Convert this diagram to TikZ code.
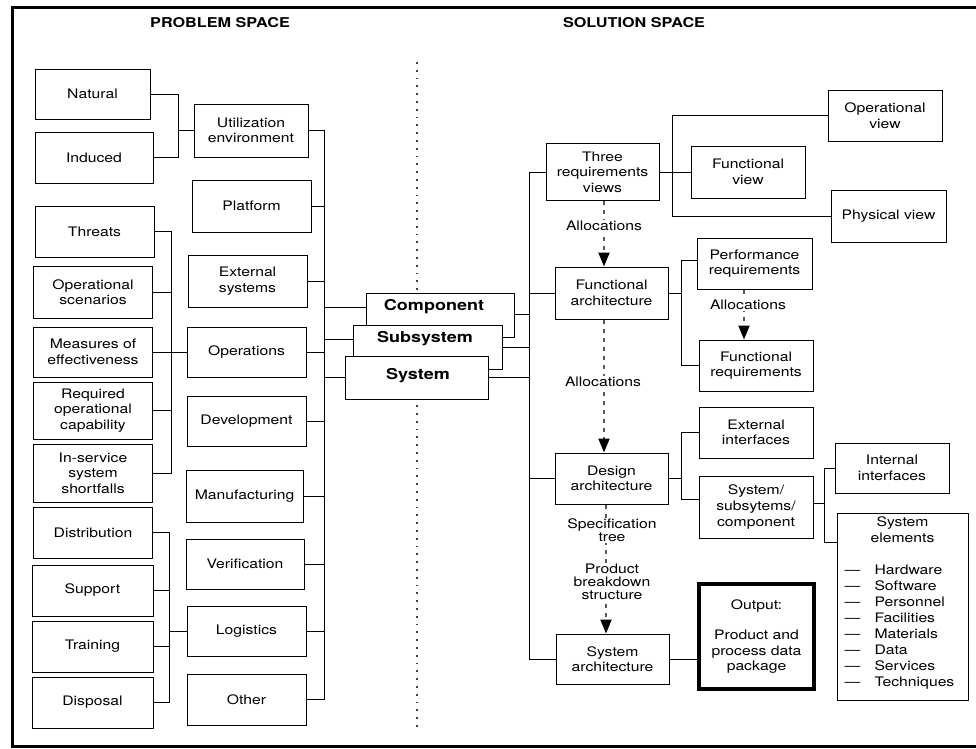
\documentclass[tikz,border=0pt]{standalone}
\usepackage{fontspec}
\setmainfont{TeX Gyre Heros}[FakeStretch=1.2]
\usetikzlibrary{arrows.meta, calc}
\tikzset{>={Triangle[length=14pt,width=11pt,color=black]}}
\tikzset{
  box/.style={draw, fill=white, line width=1pt, align=center, inner sep=0pt, minimum width=119pt, minimum height=51pt, font=\fontsize{13.1}{15.6}\selectfont},
  tier/.style={draw, fill=white, line width=1pt, inner sep=0pt, minimum width=148pt, minimum height=44pt},
  tiertext/.style={font=\fontsize{15}{18}\selectfont\bfseries},
  heading/.style={font=\fontsize{13.5}{16}\selectfont\bfseries},
  link/.style={line width=1pt},
  alloc/.style={->, black!65, line width=2pt, dash pattern=on 4pt off 5pt},
  alloctext/.style={fill=white, inner sep=1pt, align=center, font=\fontsize{13.1}{13}\selectfont},
}

\begin{document}
\begin{tikzpicture}[x=1pt,y=-1pt]
\useasboundingbox (0,0) rectangle (976,748);
\draw[line width=3pt] (990,7) -- (12,7) -- (12,746.5) -- (990,746.5);
\draw[black!75, line width=1.8pt, dash pattern=on 1.8pt off 6pt] (417,62) -- (417,729);

\node[heading] (probhead) at (220,23) {PROBLEM SPACE};
\node[heading] (solhead) at (634,23) {SOLUTION SPACE};

% problem space
\node[box, minimum width=115, minimum height=50] (natural) at (92.5,94) {Natural};
\node[box, minimum width=118] (induced) at (94,157.5) {Induced};
\node[box] (threats) at (94.5,231.5) {Threats};
\node[box, minimum height=52] (opscen) at (93,292) {Operational\\scenarios};
\node[box, minimum height=50] (moe) at (93,352) {Measures of\\effectiveness};
\node[box, minimum height=57] (roc) at (93,410.5) {Required\\operational\\capability};
\node[box, minimum height=58] (isss) at (93,473) {In-service\\system\\shortfalls};
\node[box] (distrib) at (93,532.5) {Distribution};
\node[box, minimum width=121] (support) at (92.5,590.5) {Support};
\node[box, minimum width=121] (training) at (92.5,646.5) {Training};
\node[box, minimum width=121] (disposal) at (92.5,702.5) {Disposal};

\node[box, minimum width=114, minimum height=53] (utilenv) at (251,130.5) {Utilization\\environment};
\node[box, minimum height=52] (platform) at (251.5,206) {Platform};
\node[box, minimum height=52] (extsys) at (247.5,281) {External\\systems};
\node[box, minimum height=50] (operations) at (246.5,352) {Operations};
\node[box, minimum height=50] (development) at (246.5,421) {Development};
\node[box, minimum width=117, minimum height=52] (manufacturing) at (244.5,496) {Manufacturing};
\node[box, minimum width=118, minimum height=50] (verification) at (245,564) {Verification};
\node[box, minimum height=50] (logistics) at (246.5,631) {Logistics};
\node[box] (other) at (246.5,699.5) {Other};

\node[tier] (component) at (440,315) {};
\node[tiertext] (comptext) at (434,307) {Component};
\node[tier, minimum width=149] (subsystem) at (427.5,347) {};
\node[tiertext] (subtext) at (425,339) {Subsystem};
\node[tier, minimum width=143, minimum height=43] (system) at (416.5,377.5) {};
\node[tiertext] (systext) at (418,376) {System};

% solution space
\node[box, minimum width=113, minimum height=57] (threereq) at (602.5,172) {Three\\requirements\\views};
\node[box, minimum width=113, minimum height=52] (funcarch) at (611.5,293) {Functional\\architecture};
\node[box, minimum width=113] (designarch) at (611.5,478.5) {Design\\architecture};
\node[box, minimum width=113, minimum height=50] (sysarch) at (612.5,659) {System\\architecture};
\node[box, minimum width=114] (opview) at (885,115.5) {Operational\\view};
\node[box, minimum width=114, minimum height=52] (funcview) at (748,172) {Functional\\view};
\node[box, minimum width=115, minimum height=52] (physview) at (888.5,216) {Physical view};
\node[box, minimum width=115] (perfreq) at (754.5,263.5) {Performance\\requirements};
\node[box, minimum width=114] (funcreq) at (756,365.5) {Functional\\requirements};
\node[box, minimum width=114] (extif) at (756,432.5) {External\\interfaces};
\node[box, minimum width=114, minimum height=62] (ssc) at (756,507) {System/\\subsytems/\\component};
\node[box, minimum width=114, minimum height=50] (intif) at (892,468) {Internal\\interfaces};
\node[box, minimum width=131, minimum height=187] (syselem) at (902.5,606.5) {};
\node[box, draw=none, minimum width=0, minimum height=0, inner sep=3pt, anchor=north] (elemtitle) at ([yshift=-1pt]syselem.north) {System\\elements};
\node[box, draw=none, fill=none, minimum width=0, minimum height=0, anchor=north west, align=left, font=\fontsize{13.1}{16}\selectfont] (elemlist) at (844,564)
  {\makebox[30pt][l]{—}Hardware\\\makebox[30pt][l]{—}Software\\\makebox[30pt][l]{—}Personnel\\\makebox[30pt][l]{—}Facilities\\
   \makebox[30pt][l]{—}Materials\\\makebox[30pt][l]{—}Data\\\makebox[30pt][l]{—}Services\\\makebox[30pt][l]{—}Techniques};
\node[box, line width=4pt, minimum width=115, minimum height=105] (output) at (756.5,636.5) {Output:\\[15pt]Product and\\process data\\package};

\coordinate (envbus) at (178,0);
\coordinate (opsbus) at (171,0);
\coordinate (logbus) at (169,0);
\coordinate (midbus) at (324,0);
\coordinate (solbus) at (529,0);
\coordinate (viewbus) at (672,0);
\coordinate (reqbus) at (681,0);
\coordinate (elembus) at (824,0);
\coordinate (elemjoin) at ([yshift=-30pt]syselem.north west);
\coordinate (compjoin) at ([yshift=1pt]component.east);
\coordinate (perfjoin) at ([yshift=3pt]perfreq.west);
\coordinate (sscin) at ([yshift=8pt]ssc.west);
\coordinate (sscout) at ([yshift=4pt]ssc.east);
\coordinate (allocx) at (604,0);
\coordinate (reqx) at (744,0);
\coordinate (treex) at (606,0);

\draw[link] (natural.east) -| (envbus |- utilenv.west) -- (utilenv.west);
\draw[link] (induced.east) -| (envbus |- utilenv.west);
\draw[link] (threats.east) -| (opsbus |- isss.east) -- (isss.east);
\foreach \n in {opscen, moe, roc} \draw[link] (\n.east) -- (opsbus |- \n.east);
\draw[link] (moe.east) -- (operations.west);
\draw[link] (distrib.east) -| (logbus |- disposal.east) -- (disposal.east);
\foreach \n in {support, training} \draw[link] (\n.east) -- (logbus |- \n.east);
\draw[link] (logbus |- logistics.west) -- (logistics.west);

\draw[link] (utilenv.east) -| (midbus |- other.east) -- (other.east);
\foreach \n in {platform, extsys, operations, development, manufacturing, verification, logistics}
  \draw[link] (\n.east) -- (midbus |- \n.east);
\draw[link] (midbus |- comptext) -- (component.west |- comptext);
\draw[link] (midbus |- subtext) -- (subsystem.west |- subtext);
\draw[link] (midbus |- system.west) -- (system.west);

\draw[link] (threereq.west) -| (solbus |- sysarch.west) -- (sysarch.west);
\foreach \n in {funcarch, designarch} \draw[link] (\n.west) -- (solbus |- \n.west);
\draw[link] (compjoin) -- (solbus |- compjoin);
\draw[link] (subsystem.east) -- (solbus |- subsystem.east);
\draw[link] (system.east) -- (solbus |- system.east);

\draw[link] (threereq.east) -- (funcview.west);
\draw[link] (opview.west) -| (viewbus |- physview.west) -- (physview.west);
\draw[link] (funcarch.east) -- (reqbus |- funcarch.east);
\draw[link] (perfjoin) -| (reqbus |- funcreq.west) -- (funcreq.west);
\draw[link] (designarch.east) -- (reqbus |- designarch.east);
\draw[link] (extif.west) -| (reqbus |- sscin) -- (sscin);
\draw[link] (sscout) -- (elembus |- sscout);
\draw[link] (intif.west) -| (elembus |- elemjoin) -- (elemjoin);
\draw[link] (sysarch.east) -- (sysarch.east -| output.west);

\draw[alloc] (threereq.south -| allocx) -- (funcarch.north -| allocx);
\draw[alloc] (perfreq.south -| reqx) -- (funcreq.north -| reqx);
\draw[alloc] (funcarch.south -| allocx) -- (designarch.north -| allocx);
\draw[alloc] (designarch.south -| treex) -- (sysarch.north -| treex);
\node[alloctext] (alloc1) at (604,226) {Allocations};
\node[alloctext] (alloc2) at (748,305) {Allocations};
\node[alloctext] (alloc3) at (603,382) {Allocations};
\node[alloctext] (spectree) at (612,530.5) {Specification\\tree};
\node[alloctext] (pbs) at (612,582) {Product\\breakdown\\structure};
\end{tikzpicture}
\end{document}
